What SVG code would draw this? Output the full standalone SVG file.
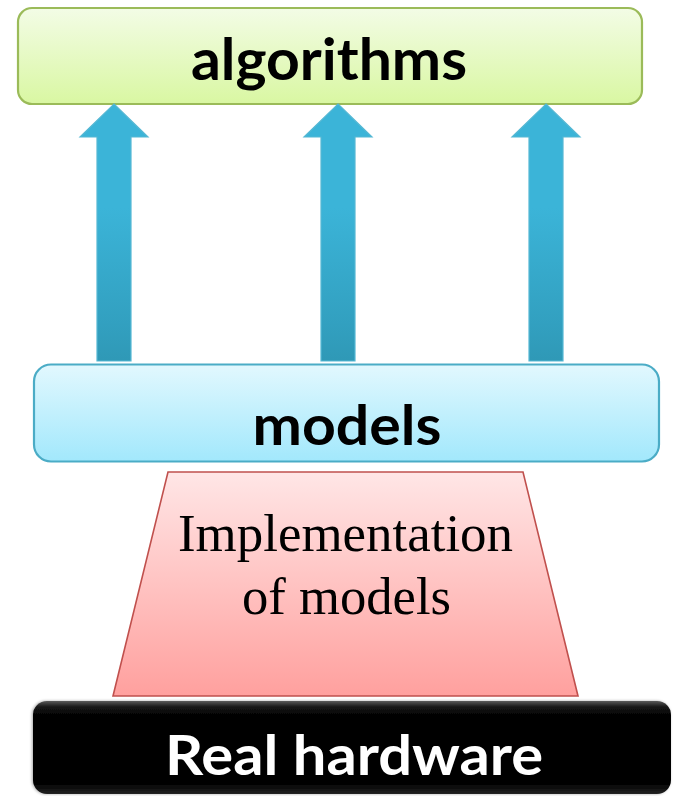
<svg xmlns="http://www.w3.org/2000/svg" width="673" height="796" viewBox="0 0 673 796">
  <defs>
    <linearGradient id="gradAlgo" x1="0" y1="0" x2="0" y2="1">
      <stop offset="0" stop-color="#F3FCE6"/>
      <stop offset="1" stop-color="#D9F7A2"/>
    </linearGradient>
    <linearGradient id="gradModels" x1="0" y1="0" x2="0" y2="1">
      <stop offset="0" stop-color="#E2F8FE"/>
      <stop offset="1" stop-color="#A2E8FC"/>
    </linearGradient>
    <linearGradient id="gradImpl" x1="0" y1="0" x2="0" y2="1">
      <stop offset="0" stop-color="#FFE6E6"/>
      <stop offset="1" stop-color="#FFA09E"/>
    </linearGradient>
    <linearGradient id="gradArrow" gradientUnits="userSpaceOnUse" x1="0" y1="104" x2="0" y2="361">
      <stop offset="0" stop-color="#3BB4D8"/>
      <stop offset="0.45" stop-color="#32A0C0"/>
      <stop offset="1" stop-color="#27849B"/>
    </linearGradient>
    <linearGradient id="gradHw" x1="0" y1="0" x2="0" y2="1">
      <stop offset="0" stop-color="#5A5A5A"/>
      <stop offset="0.06" stop-color="#1A1A1A"/>
      <stop offset="0.14" stop-color="#050505"/>
      <stop offset="0.9" stop-color="#050505"/>
      <stop offset="1" stop-color="#222222"/>
    </linearGradient>
    <filter id="hwShadow" x="-5%" y="-10%" width="110%" height="120%">
      <feGaussianBlur in="SourceAlpha" stdDeviation="1.5"/>
      <feOffset dx="-1" dy="0" result="b"/>
      <feComponentTransfer><feFuncA type="linear" slope="0.35"/></feComponentTransfer>
      <feMerge><feMergeNode/><feMergeNode in="SourceGraphic"/></feMerge>
    </filter>
    <path id="upArrow" d="M0,0 L34,33 L17,33 L17,257 L-17,257 L-17,33 L-34,33 Z"/>
  </defs>
  <style>
    .label-sans { font-family: Lato, "Open Sans", "Liberation Sans", sans-serif; font-weight: bold; }
    .label-serif { font-family: "Liberation Serif", "Times New Roman", serif; }
    .arrow { fill: url(#gradArrow); stroke: #55B8D4; stroke-width: 1.2; }
  </style>

  <!-- layered boxes -->
  <g id="algorithms">
    <rect x="18" y="8" width="624" height="96" rx="14" fill="url(#gradAlgo)" stroke="#9BBB59" stroke-width="2.2"/>
    <text class="label-sans" x="329" y="80" font-size="58" text-anchor="middle" textLength="276" lengthAdjust="spacingAndGlyphs">algorithms</text>
  </g>

  <g id="connectors">
    <use href="#upArrow" class="arrow" x="114" y="104"/>
    <use href="#upArrow" class="arrow" x="338" y="104"/>
    <use href="#upArrow" class="arrow" x="546" y="104"/>
  </g>

  <g id="models">
    <rect x="34" y="364.5" width="625" height="97" rx="17" fill="url(#gradModels)" stroke="#4BACC6" stroke-width="2.2"/>
    <text class="label-sans" x="347" y="445" font-size="56" text-anchor="middle" textLength="189" lengthAdjust="spacingAndGlyphs">models</text>
  </g>

  <g id="implementation">
    <polygon points="168,472 523,472 578,696 113,696" fill="url(#gradImpl)" stroke="#C0504D" stroke-width="1.6"/>
    <text class="label-serif" font-size="53">
      <tspan x="178" y="551" textLength="335" lengthAdjust="spacingAndGlyphs">Implementation</tspan>
      <tspan x="242" y="614" textLength="209" lengthAdjust="spacingAndGlyphs">of models</tspan>
    </text>
  </g>

  <g id="hardware">
    <rect x="33" y="701" width="638" height="93" rx="14" fill="url(#gradHw)" filter="url(#hwShadow)"/>
    <text class="label-sans" x="165" y="775" font-size="56" fill="#FFFFFF" textLength="378" lengthAdjust="spacingAndGlyphs">Real hardware</text>
  </g>
</svg>
